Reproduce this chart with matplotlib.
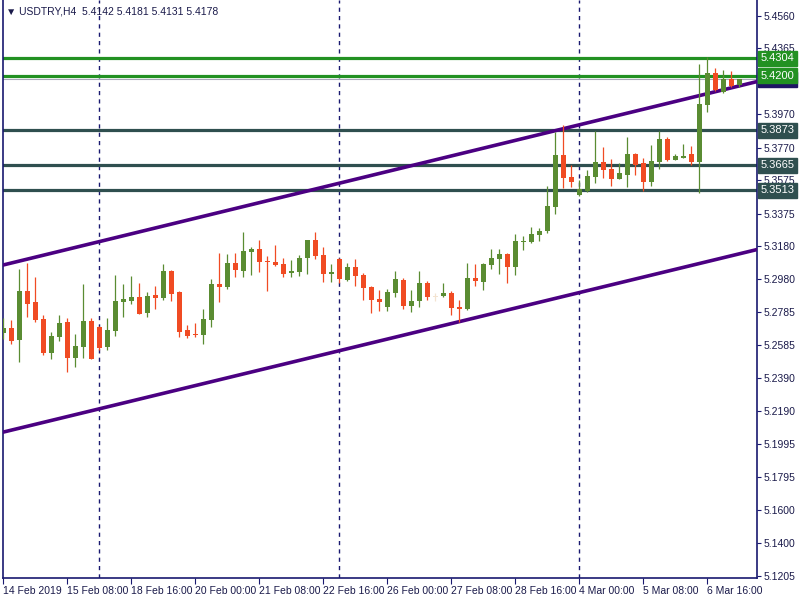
import numpy as np
import matplotlib.pyplot as plt
from matplotlib.transforms import blended_transform_factory

plt.rcParams['font.family'] = ['Liberation Sans', 'DejaVu Sans']

# H4 candles, 14 Feb 2019 00:00 -> 7 Mar 2019 08:00
opens = [5.2661, 5.2687, 5.2619, 5.2911, 5.2845, 5.2743, 5.2541, 5.2637, 5.2725, 5.2511,
         5.2577, 5.2731, 5.2695, 5.2577, 5.2673, 5.2847, 5.2853, 5.2875, 5.2781, 5.2887,
         5.2869, 5.3030, 5.2905, 5.2677, 5.2653, 5.2649, 5.2739, 5.2953, 5.2937, 5.3078,
         5.3033, 5.3146, 5.3162, 5.3090, 5.3084, 5.3072, 5.3021, 5.3027, 5.3110, 5.3216,
         5.3126, 5.3015, 5.3102, 5.2979, 5.3054, 5.3007, 5.2935, 5.2863, 5.2817, 5.2901,
         5.2977, 5.2823, 5.2853, 5.2959, 5.2877, 5.2883, 5.2899, 5.2815, 5.2805, 5.2989,
         5.2967, 5.3069, 5.3104, 5.3132, 5.3057, 5.3206, 5.3206, 5.3248, 5.3272, 5.3416,
         5.3726, 5.3594, 5.3488, 5.3512, 5.3596, 5.3684, 5.3642, 5.3584, 5.3608, 5.3732,
         5.3678, 5.3566, 5.3686, 5.3821, 5.3698, 5.3710, 5.3732, 5.3686, 5.4025, 5.4217,
         5.4105, 5.4181, 5.4142]
highs = [5.2747, 5.2737, 5.3040, 5.3078, 5.2994, 5.2767, 5.2663, 5.2767, 5.2749, 5.2653,
         5.2953, 5.2749, 5.2701, 5.2749, 5.3006, 5.2953, 5.3000, 5.2959, 5.2905, 5.2941,
         5.3072, 5.3034, 5.2909, 5.2707, 5.2719, 5.2803, 5.2982, 5.3138, 5.3132, 5.3138,
         5.3264, 5.3174, 5.3216, 5.3120, 5.3186, 5.3108, 5.3096, 5.3126, 5.3218, 5.3264,
         5.3174, 5.3072, 5.3106, 5.3078, 5.3102, 5.3019, 5.2941, 5.2917, 5.2923, 5.3031,
         5.2989, 5.2917, 5.3031, 5.2971, 5.2901, 5.2959, 5.2911, 5.2857, 5.3078, 5.3072,
         5.3079, 5.3162, 5.3162, 5.3136, 5.3252, 5.3240, 5.3294, 5.3288, 5.3540, 5.3863,
         5.3905, 5.3666, 5.3576, 5.3636, 5.3869, 5.3773, 5.3702, 5.3678, 5.3833, 5.3738,
         5.3708, 5.3785, 5.3869, 5.3833, 5.3732, 5.3791, 5.3779, 5.4271, 5.4313, 5.4247,
         5.4235, 5.4229, 5.4181]
lows = [5.2625, 5.2595, 5.2487, 5.2757, 5.2727, 5.2529, 5.2505, 5.2613, 5.2427, 5.2457,
        5.2511, 5.2503, 5.2557, 5.2559, 5.2643, 5.2757, 5.2835, 5.2771, 5.2757, 5.2805,
        5.2859, 5.2853, 5.2637, 5.2631, 5.2637, 5.2595, 5.2697, 5.2847, 5.2925, 5.2996,
        5.2997, 5.3009, 5.3027, 5.2913, 5.3062, 5.2997, 5.2997, 5.3003, 5.3015, 5.3104,
        5.2967, 5.2967, 5.2961, 5.2973, 5.2943, 5.2859, 5.2781, 5.2793, 5.2793, 5.2877,
        5.2805, 5.2787, 5.2817, 5.2859, 5.2853, 5.2877, 5.2769, 5.2727, 5.2799, 5.2943,
        5.2917, 5.3045, 5.3015, 5.2961, 5.3009, 5.3158, 5.3200, 5.3212, 5.3260, 5.3374,
        5.3530, 5.3536, 5.3482, 5.3506, 5.3560, 5.3590, 5.3542, 5.3582, 5.3536, 5.3608,
        5.3512, 5.3542, 5.3644, 5.3692, 5.3698, 5.3710, 5.3668, 5.3500, 5.3985, 5.4111,
        5.4099, 5.4135, 5.4131]
closes = [5.2687, 5.2613, 5.2911, 5.2835, 5.2739, 5.2539, 5.2641, 5.2719, 5.2511, 5.2581,
          5.2731, 5.2505, 5.2571, 5.2677, 5.2851, 5.2863, 5.2875, 5.2775, 5.2881, 5.2869,
          5.3030, 5.2895, 5.2667, 5.2643, 5.2647, 5.2743, 5.2953, 5.2937, 5.3078, 5.3038,
          5.3150, 5.3162, 5.3086, 5.3084, 5.3068, 5.3015, 5.3031, 5.3108, 5.3216, 5.3122,
          5.3015, 5.3025, 5.2985, 5.3054, 5.3003, 5.2931, 5.2859, 5.2847, 5.2905, 5.2983,
          5.2823, 5.2851, 5.2959, 5.2877, 5.2877, 5.2899, 5.2811, 5.2805, 5.2989, 5.2973,
          5.3073, 5.3108, 5.3132, 5.3057, 5.3210, 5.3210, 5.3252, 5.3270, 5.3420, 5.3726,
          5.3590, 5.3566, 5.3522, 5.3600, 5.3684, 5.3638, 5.3584, 5.3618, 5.3732, 5.3668,
          5.3566, 5.3690, 5.3821, 5.3698, 5.3720, 5.3720, 5.3686, 5.4031, 5.4217, 5.4117,
          5.4181, 5.4141, 5.4178]

x_labels = ["14 Feb 2019", "15 Feb 08:00", "18 Feb 16:00", "20 Feb 00:00", "21 Feb 08:00",
            "22 Feb 16:00", "26 Feb 00:00", "27 Feb 08:00", "28 Feb 16:00", "4 Mar 00:00",
            "5 Mar 08:00", "6 Mar 16:00"]
week_starts = [12, 42, 72]
y_ticks = [5.4560, 5.4365, 5.3970, 5.3770, 5.3575, 5.3375, 5.3180, 5.2980, 5.2785,
           5.2585, 5.2390, 5.2190, 5.1995, 5.1795, 5.1600, 5.1400, 5.1205]

# horizontal levels
green_levels = [5.4304, 5.4200]
grey_levels = [5.3873, 5.3665, 5.3513]
last_price = 5.4178

# channel: (candle index, price) at both ends
upper_chan = [(0, 5.3067), (94, 5.4163)]
lower_chan = [(0, 5.2066), (94, 5.3157)]

navy = '#191970'
txt = '#1a1a4a'
bull = '#5A8C32'
bear = '#F04B23'
lvl_green = '#229122'
lvl_grey = '#2F4F4F'
purple = '#4B0082'

fig = plt.figure(figsize=(8, 6), dpi=100)
ax = fig.add_axes([3 / 800, 22 / 600, 754 / 800, 578 / 600])

n = len(opens)
idx = np.arange(n)
o = np.array(opens); c = np.array(closes)
cols = []
for a, b in zip(o, c):
    if a == b:
        cols.append('#F3E3D0')
    elif b > a:
        cols.append(bull)
    else:
        cols.append(bear)

# week separators
for w in week_starts:
    ax.axvline(w, color=navy, lw=1, ls=(0, (3, 3)), zorder=1)

ax.axhline(last_price, color='#A8A8B8', lw=0.8, zorder=2)
for p in green_levels:
    ax.axhline(p, color=lvl_green, lw=2.3, zorder=2)
for p in grey_levels:
    ax.axhline(p, color=lvl_grey, lw=2.3, zorder=2)

for line in (upper_chan, lower_chan):
    (x0, y0), (x1, y1) = line
    ax.axline((x0, y0), (x1, y1), color=purple, lw=2.6, zorder=3)

ax.vlines(idx, lows, highs, colors=cols, lw=0.9, zorder=4)
heights = np.maximum(np.abs(c - o), 0.0004)
ax.bar(idx, heights, bottom=np.minimum(o, c), width=0.62, color=cols, lw=0, zorder=5)

ax.set_xlim(-0.04, 94.2)
ax.set_ylim(5.1192, 5.4654)

for s in ['left', 'right', 'bottom']:
    ax.spines[s].set_color(navy)
    ax.spines[s].set_linewidth(1.2)
ax.spines['top'].set_visible(False)

ax.yaxis.tick_right()
ax.set_yticks(y_ticks)
ax.set_yticklabels([f"{v:.4f}" for v in y_ticks])
ax.tick_params(axis='y', colors=navy, labelcolor=txt, labelsize=7.5, length=3, pad=2)
ax.set_xticks([8 * i for i in range(len(x_labels))])
ax.set_xticklabels(x_labels, ha='left')
ax.tick_params(axis='x', colors=navy, labelcolor=txt, labelsize=7.5, length=4, pad=2)

# price labels on the right scale
tr = blended_transform_factory(ax.transAxes, ax.transData)
def price_box(p, fc):
    ax.text(1.005, p, f"{p:.4f}", transform=tr, ha='left', va='center', fontsize=8,
            color='white', clip_on=False, zorder=10,
            bbox=dict(boxstyle='square,pad=0.22', fc=fc, ec=fc))

price_box(last_price, '#1E1464')
for p in green_levels:
    price_box(p, lvl_green)
for p in grey_levels:
    price_box(p, lvl_grey)

fig.text(6 / 800, 1 - 12 / 600,
         "\u25bc USDTRY,H4  5.4142 5.4181 5.4131 5.4178",
         fontsize=7.5, color=txt, va='center', ha='left')

fig.savefig('out.png', dpi=100)
